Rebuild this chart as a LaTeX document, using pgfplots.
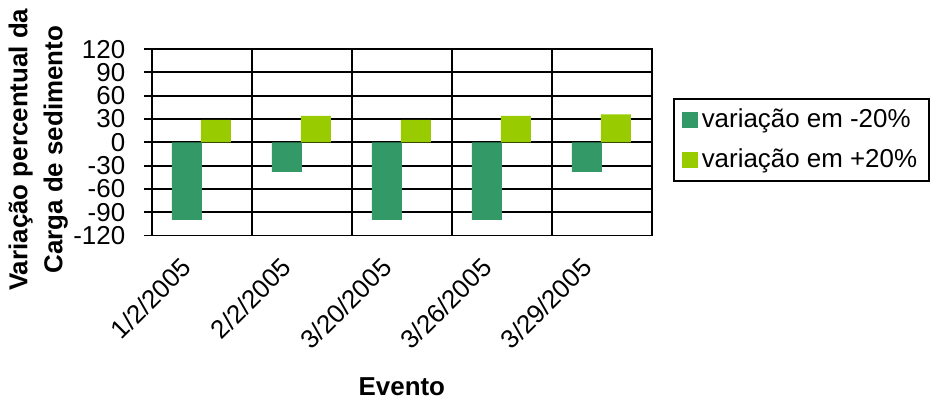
\documentclass[border=0pt]{standalone}
\usepackage{pgfplots}
\pgfplotsset{compat=1.18}
\usepackage{fontspec}
\setmainfont{Liberation Sans}
\definecolor{dkg}{HTML}{339966}
\definecolor{ltg}{HTML}{99CC00}
\begin{document}
\fontsize{13}{15}\selectfont
\begin{tikzpicture}
\begin{axis}[
  scale only axis,
  width=251pt, height=93.5pt,
  xmin=-0.5, xmax=4.5,
  ymin=-120, ymax=120,
  ytick={-120,-90,-60,-30,0,30,60,90,120},
  xtick={0,1,2,3,4},
  xticklabels={1/2/2005,2/2/2005,3/20/2005,3/26/2005,3/29/2005},
  x tick label style={xshift=-11pt, yshift=0pt, rotate=45, anchor=north east, font=\fontsize{13}{15}\selectfont},
  y tick label style={font=\fontsize{13}{15}\selectfont, xshift=-4.8pt},
  /pgf/number format/assume math mode=true,
  minor xtick={0.5,1.5,2.5,3.5},
  xminorgrids, ymajorgrids,
  grid style={black, line width=0.95pt},
  minor grid style={black, line width=0.95pt},
  axis line style={black, line width=0.95pt},
  tick align=outside,
  ytick pos=left,
  xtick pos=bottom,
  major tick length=4pt,
  minor tick length=0pt,
  xtick style={draw=none},
  ytick style={black, line width=0.95pt},
  ybar, bar width=0.3,
  ylabel={Variação percentual da\\Carga de sedimento},
  every axis y label/.style={at={(axis description cs:-0.227,0.46)}, anchor=center, rotate=90,
    align=center, font=\bfseries\fontsize{13}{17.5}\selectfont},
  xlabel={Evento},
  every axis x label/.style={at={(axis description cs:0.5,0)}, anchor=center, yshift=-76pt,
    font=\bfseries\fontsize{13}{15}\selectfont},
  legend style={at={(1.042,0.513)}, anchor=west, draw=black, line width=0.95pt,
    font=\fontsize{13}{15}\selectfont, row sep=4.5pt, inner xsep=4pt, inner ysep=3pt},
  legend cell align=left,
  legend image code/.code={\draw[#1, draw=none] (0cm,-0.14cm) rectangle (0.28cm,0.14cm);},
]
\addplot[fill=dkg, draw=none, bar shift=-0.15] coordinates {(0,-100) (1,-38) (2,-100) (3,-100) (4,-38)};
\addplot[fill=ltg, draw=none, bar shift=0.14] coordinates {(0,29) (1,34) (2,29) (3,34) (4,36)};
\legend{variação em -20\%, variação em +20\%}
\end{axis}
\end{tikzpicture}
\end{document}
